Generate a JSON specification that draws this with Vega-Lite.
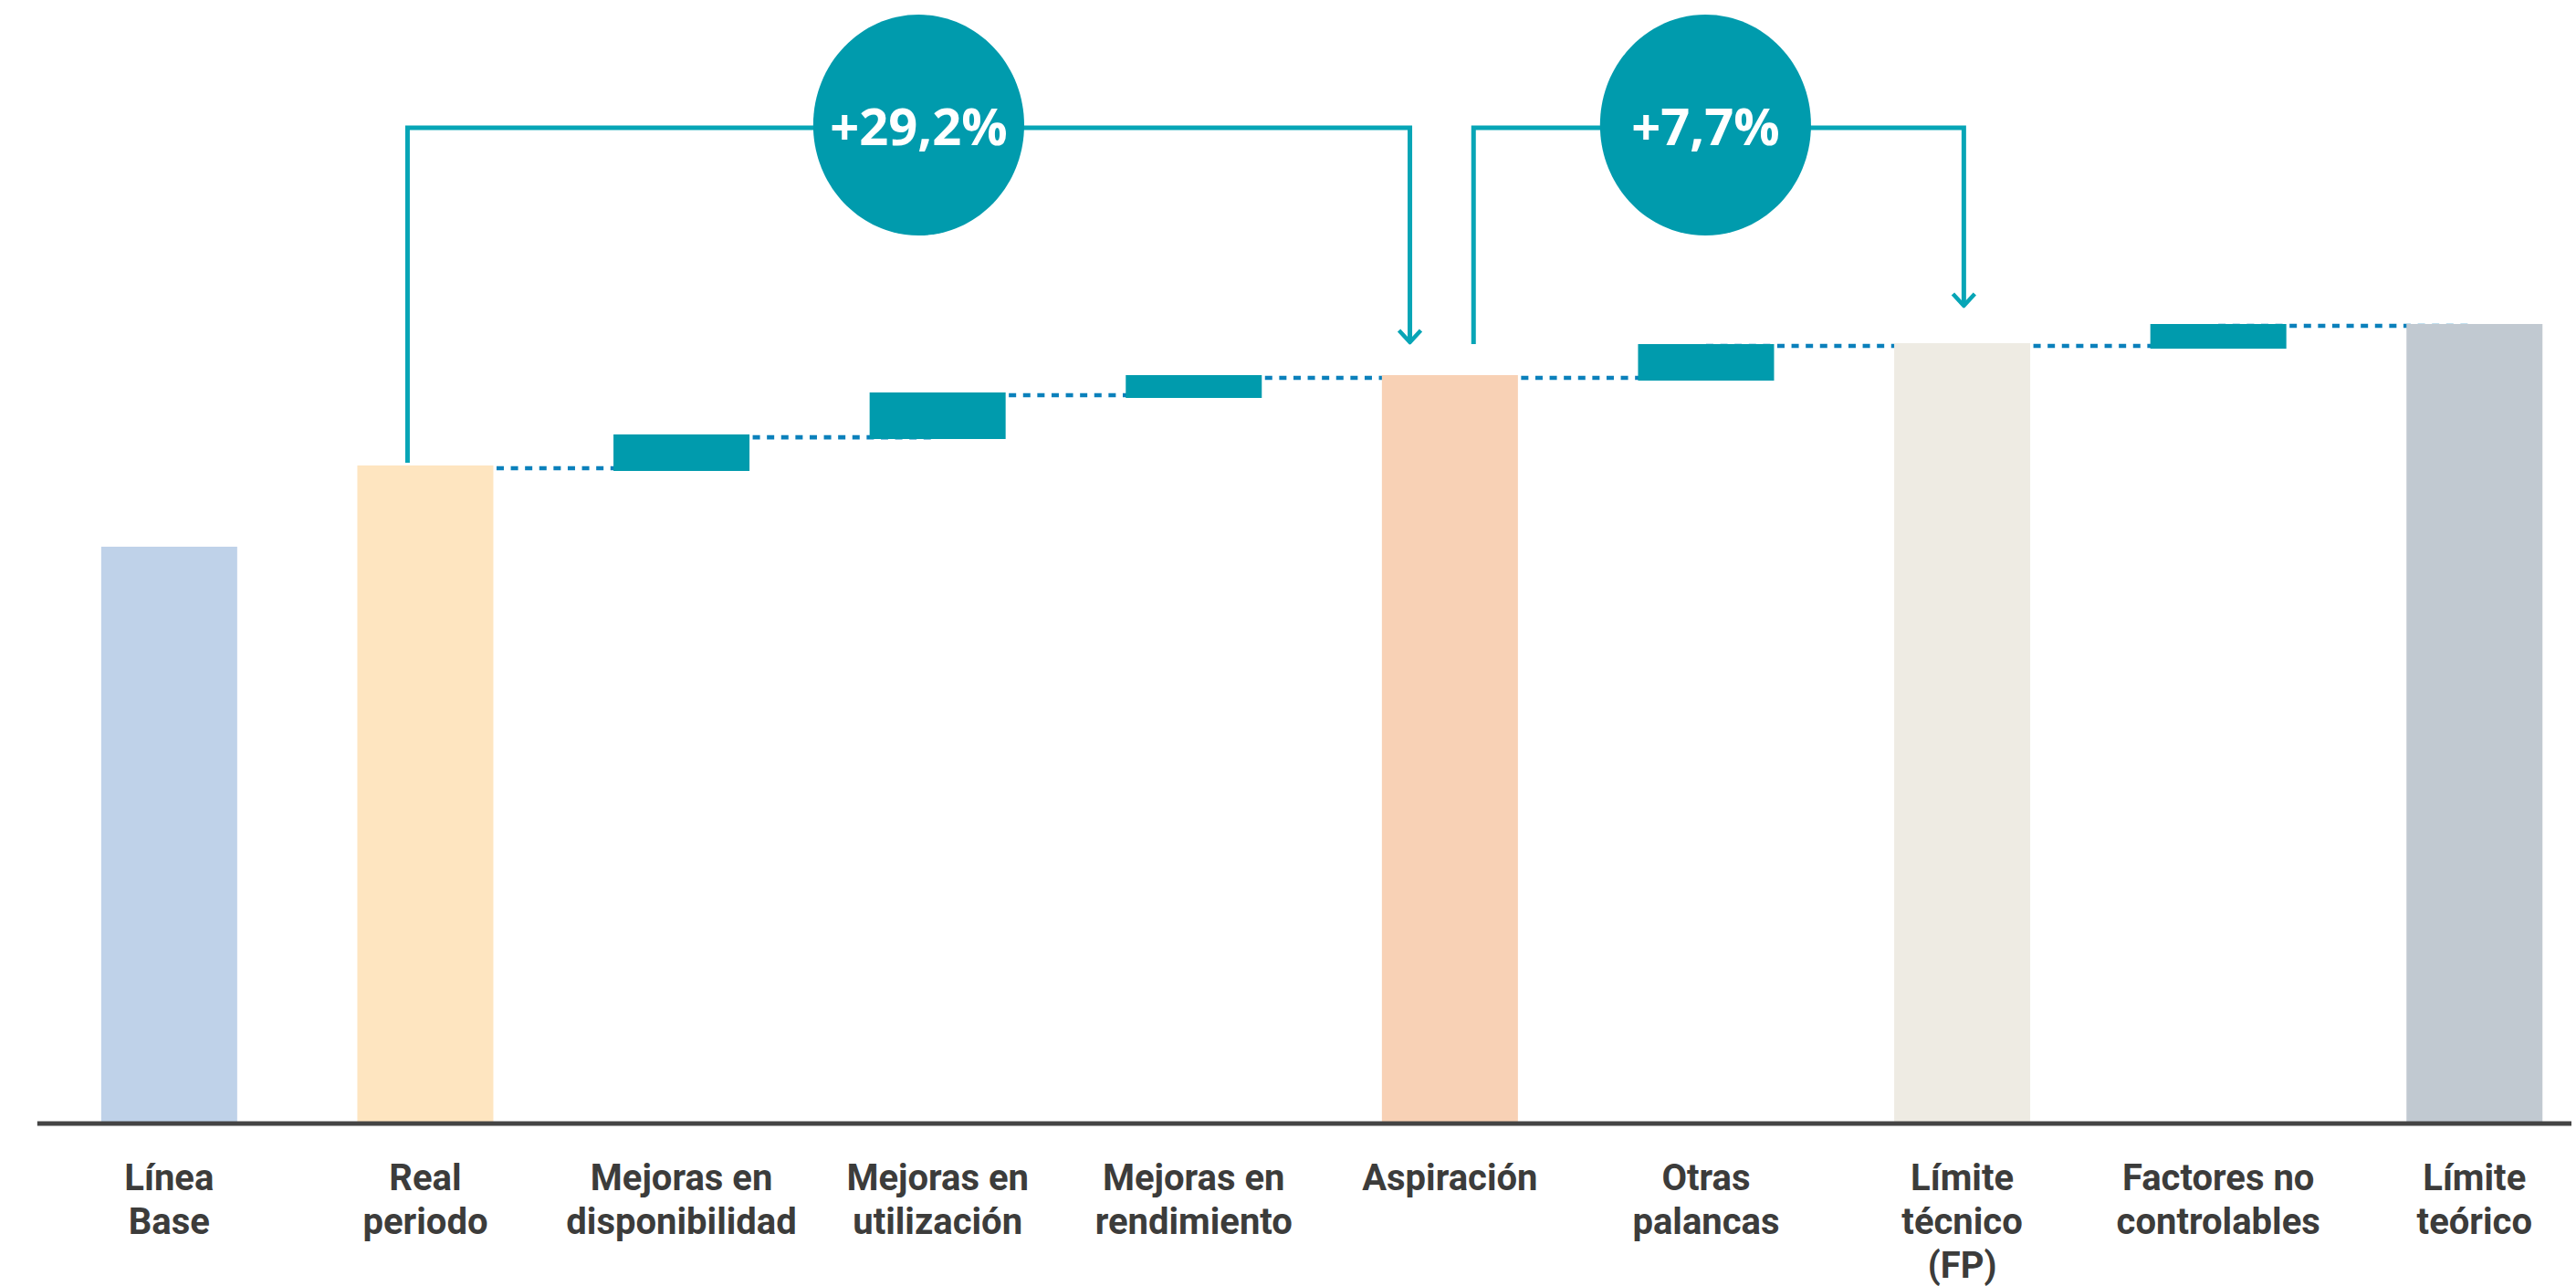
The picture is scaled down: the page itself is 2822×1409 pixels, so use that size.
{
  "$schema": "https://vega.github.io/schema/vega-lite/v6.json",
  "width": 2822,
  "height": 1409,
  "autosize": {"type": "none"},
  "padding": 0,
  "background": "#ffffff",
  "config": {"view": {"stroke": null}},
  "datasets": {
    "bars": [
      {"cat": "Línea Base", "idx": 0, "label": "Línea\nBase", "top": 87.78, "bottom": 0},
      {"cat": "Real periodo", "idx": 1, "label": "Real\nperiodo", "top": 100.14, "bottom": 0},
      {"cat": "Mejoras en disponibilidad", "idx": 2, "label": "Mejoras en\ndisponibilidad", "top": 104.86, "bottom": 99.31},
      {"cat": "Mejoras en utilización", "idx": 3, "label": "Mejoras en\nutilización", "top": 111.25, "bottom": 104.17},
      {"cat": "Mejoras en rendimiento", "idx": 4, "label": "Mejoras en\nrendimiento", "top": 113.89, "bottom": 110.42},
      {"cat": "Aspiración", "idx": 5, "label": "Aspiración", "top": 113.89, "bottom": 0},
      {"cat": "Otras palancas", "idx": 6, "label": "Otras\npalancas", "top": 118.61, "bottom": 113.06},
      {"cat": "Límite técnico (FP)", "idx": 7, "label": "Límite\ntécnico\n(FP)", "top": 118.75, "bottom": 0},
      {"cat": "Factores no controlables", "idx": 8, "label": "Factores no\ncontrolables", "top": 121.67, "bottom": 117.92},
      {"cat": "Límite teórico", "idx": 9, "label": "Límite\nteórico", "top": 121.67, "bottom": 0}
    ],
    "connectors": [
      {"a": 1, "b": 2, "lvl": 99.72},
      {"a": 2, "b": 3, "lvl": 104.44},
      {"a": 3, "b": 4, "lvl": 110.83},
      {"a": 4, "b": 5, "lvl": 113.47},
      {"a": 5, "b": 6, "lvl": 113.47},
      {"a": 6, "b": 7, "lvl": 118.33},
      {"a": 7, "b": 8, "lvl": 118.33},
      {"a": 8, "b": 9, "lvl": 121.39}
    ],
    "brackets": [
      {"g": "b1", "o": 1, "x": 0.9304, "y": 100.56},
      {"g": "b1", "o": 2, "x": 0.9304, "y": 151.53},
      {"g": "b1", "o": 3, "x": 4.8438, "y": 151.53},
      {"g": "b1", "o": 4, "x": 4.8438, "y": 118.89},
      {"g": "b2", "o": 1, "x": 5.0923, "y": 118.61},
      {"g": "b2", "o": 2, "x": 5.0923, "y": 151.53},
      {"g": "b2", "o": 3, "x": 7.0064, "y": 151.53},
      {"g": "b2", "o": 4, "x": 7.0064, "y": 124.44}
    ],
    "arrows": [
      {"g": "a1", "o": 1, "x": 4.8012, "y": 120.69},
      {"g": "a1", "o": 2, "x": 4.8438, "y": 118.89},
      {"g": "a1", "o": 3, "x": 4.8864, "y": 120.69},
      {"g": "a2", "o": 1, "x": 6.9638, "y": 126.25},
      {"g": "a2", "o": 2, "x": 7.0064, "y": 124.44},
      {"g": "a2", "o": 3, "x": 7.049, "y": 126.25}
    ],
    "badges": [
      {"t": "+29,2%", "cx": 2.9261, "cy": 151.94, "ty": 148.89},
      {"t": "+7,7%", "cx": 5.9979, "cy": 151.94, "ty": 148.89}
    ]
  },
  "layer": [
    {
      "data": {"name": "connectors"},
      "mark": {"type": "rule", "color": "#0a80bb", "strokeWidth": 4.7, "strokeDash": [8, 7.6]},
      "encoding": {
        "x": {"field": "a", "type": "quantitative", "axis": null, "scale": {"domain": [-0.64276, 9.37855], "nice": false, "zero": false}},
        "x2": {"field": "b"},
        "y": {"field": "lvl", "type": "quantitative", "axis": null, "scale": {"domain": [-24.722, 170.972], "nice": false, "zero": false}}
      }
    },
    {
      "data": {"name": "bars"},
      "mark": {"type": "bar", "width": 149},
      "encoding": {
        "x": {"field": "idx", "type": "quantitative", "axis": null, "scale": {"domain": [-0.64276, 9.37855], "nice": false, "zero": false}},
        "y": {"field": "top", "type": "quantitative", "axis": null, "scale": {"domain": [-24.722, 170.972], "nice": false, "zero": false}},
        "y2": {"field": "bottom"},
        "color": {
          "field": "cat", "type": "nominal", "legend": null, "sort": null,
          "scale": {
            "domain": ["Línea Base", "Real periodo", "Mejoras en disponibilidad", "Mejoras en utilización", "Mejoras en rendimiento", "Aspiración", "Otras palancas", "Límite técnico (FP)", "Factores no controlables", "Límite teórico"],
            "range": ["#bfd2e9", "#fee5c0", "#009bad", "#009bad", "#009bad", "#f8d1b5", "#009bad", "#eeebe3", "#009bad", "#c1c9d1"]
          }
        }
      }
    },
    {
      "data": {"values": [{}]},
      "mark": {"type": "rule", "color": "#444444", "strokeWidth": 5},
      "encoding": {
        "x": {"datum": -0.515, "type": "quantitative"},
        "x2": {"datum": 9.3786},
        "y": {"datum": 0, "type": "quantitative"}
      }
    },
    {
      "data": {"name": "brackets"},
      "mark": {"type": "line", "color": "#07a5b6", "strokeWidth": 5, "strokeJoin": "miter", "strokeCap": "butt"},
      "encoding": {
        "x": {"field": "x", "type": "quantitative"},
        "y": {"field": "y", "type": "quantitative"},
        "detail": {"field": "g"},
        "order": {"field": "o"}
      }
    },
    {
      "data": {"name": "arrows"},
      "mark": {"type": "line", "color": "#07a5b6", "strokeWidth": 4.5, "strokeJoin": "round", "strokeCap": "butt"},
      "encoding": {
        "x": {"field": "x", "type": "quantitative"},
        "y": {"field": "y", "type": "quantitative"},
        "detail": {"field": "g"},
        "order": {"field": "o"}
      }
    },
    {
      "data": {"name": "badges"},
      "mark": {"type": "point", "filled": true, "opacity": 1, "color": "#009bad", "strokeWidth": 0, "size": 58564, "shape": "M-0.955,0A0.955,1,0,1,1,0.955,0A0.955,1,0,1,1,-0.955,0Z"},
      "encoding": {
        "x": {"field": "cx", "type": "quantitative"},
        "y": {"field": "cy", "type": "quantitative"}
      }
    },
    {
      "data": {"name": "badges"},
      "mark": {"type": "text", "color": "#ffffff", "font": "Open Sans", "fontWeight": "bold", "fontSize": 56, "align": "center", "baseline": "alphabetic"},
      "encoding": {
        "x": {"field": "cx", "type": "quantitative"},
        "y": {"field": "ty", "type": "quantitative"},
        "text": {"field": "t"}
      }
    },
    {
      "data": {"name": "bars"},
      "mark": {"type": "text", "color": "#3c3c3b", "font": "Roboto", "fontWeight": "bold", "fontSize": 40, "align": "center", "baseline": "alphabetic", "lineBreak": "\n", "lineHeight": 48},
      "encoding": {
        "x": {"field": "idx", "type": "quantitative"},
        "y": {"datum": -10.14, "type": "quantitative"},
        "text": {"field": "label"}
      }
    }
  ]
}
